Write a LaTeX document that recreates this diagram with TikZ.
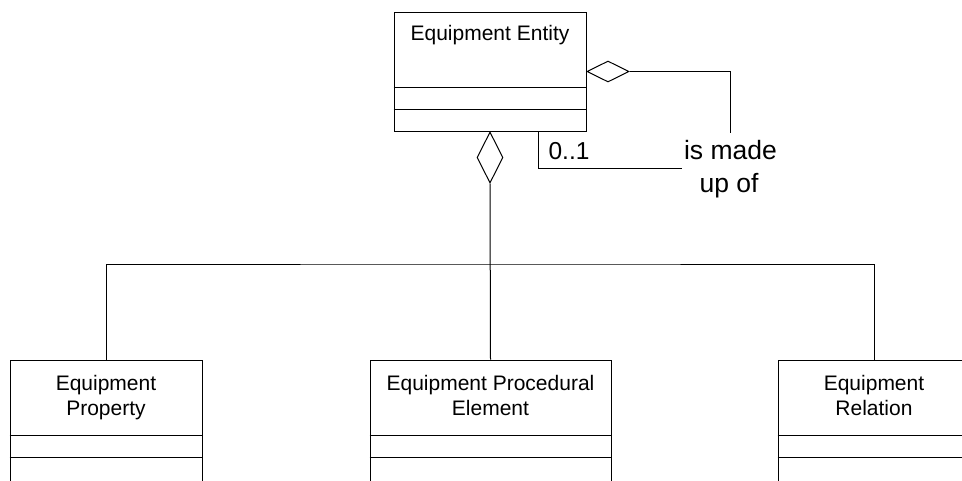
\documentclass[tikz,border=0pt]{standalone}
\usepackage{fontspec}
\setmainfont{Liberation Sans}
\usetikzlibrary{shapes.geometric}
\begin{document}
\begin{tikzpicture}[x=1pt,y=-1pt,line width=1pt,
  classbox/.style={draw,rectangle,inner sep=0pt,minimum width=192pt},
  lbl/.style={inner sep=0pt,font=\fontsize{21}{25}\selectfont,anchor=base},
  rolelbl/.style={inner sep=0pt,font=\fontsize{24.5}{30}\selectfont,anchor=base},
  agg/.style={draw,diamond,inner sep=0pt,fill=white}]
\useasboundingbox (0,0) rectangle (962,480);
\clip (0,0) rectangle (962,480);
% top class
\node[classbox,minimum height=119pt] (ee) at (490,71.5) {};
\node[lbl] (eel) at (490,40) {Equipment Entity};
\draw (ee.west |- 0,87) -- (ee.east |- 0,87);
\draw (ee.west |- 0,109) -- (ee.east |- 0,109);
% bottom classes
\node[classbox,minimum height=140pt] (ep) at (106,430) {};
\node[lbl] (ep1) at (106,390.5) {Equipment};
\node[lbl] (ep2) at (106,415.5) {Property};
\node[classbox,minimum width=241pt,minimum height=140pt] (epe) at (490.5,430) {};
\node[lbl] (epe1) at (490.5,390.5) {Equipment Procedural};
\node[lbl] (epe2) at (490.5,415.5) {Element};
\node[classbox,minimum height=140pt] (er) at (874,430) {};
\node[lbl] (er1) at (874,390.5) {Equipment};
\node[lbl] (er2) at (874,415.5) {Relation};
\foreach \b in {ep,epe,er}{
  \draw (\b.west |- 0,435.5) -- (\b.east |- 0,435.5);
  \draw (\b.west |- 0,457.5) -- (\b.east |- 0,457.5);
}
% aggregation to parts
\node[agg,minimum width=26pt,minimum height=51pt,anchor=north] (d1) at (ee.south) {};
\coordinate (bus) at (490.5,264);
\draw (d1.south) -- (epe.north);
\draw (ep.north) |- (bus) -| (er.north);
% self aggregation
\node[agg,minimum width=42pt,minimum height=21pt,anchor=west] (d2) at (ee.east) {};
\coordinate (c1) at (730,132.5);
\coordinate (c2) at (682,168);
\draw (d2.east) -| (c1);
\draw (ee.south -| 538,0) |- (c2);
\node[rolelbl] (mult) at (569,159) {0..1};
\node[inner sep=0pt,font=\fontsize{26.5}{33}\selectfont,anchor=base] (rn1) at (730.5,159) {is made};
\node[inner sep=0pt,font=\fontsize{26.5}{33}\selectfont,anchor=base] (rn2) at (729,192.5) {up of};
\end{tikzpicture}
\end{document}
